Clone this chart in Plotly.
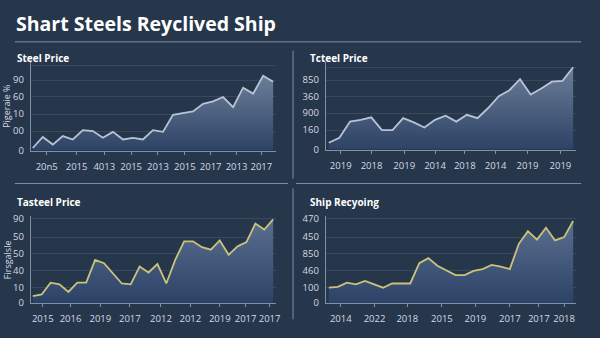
import plotly.graph_objects as go

W, H = 600, 338
BG = "#26364b"

# ---------- data ----------
p1_title = "Steel Price"
p1_values = [3, 16, 7, 17, 13, 24, 23, 15, 22, 13, 15, 13, 24, 22, 42, 44, 46, 55, 58, 63, 51, 74, 67, 88, 81]
p1_xtick_pos = [1.39, 4.37, 7.14, 9.82, 12.5, 15.18, 17.76, 20.34, 22.82]
p1_xtick_text = ["20n5", "2015", "4013", "2015", "2013", "2015", "2017", "2013", "2017"]
p1_ytick_pos = [0, 23, 43, 63.5, 83, 100]
p1_ytick_text = ["0", "00", "10", "60", "90", ""]

p2_title = "Tcteel Price"
p2_values = [8, 14, 33, 35, 38, 23, 23, 37, 32, 26, 35, 40, 33, 41, 37, 49, 63, 70, 83, 65, 72, 80, 81, 97]
p2_xtick_pos = [1.12, 4.02, 7.10, 10.0, 12.8, 15.7, 18.7, 21.8]
p2_xtick_text = ["2019", "2018", "2019", "2014", "2018", "2014", "2019", "2019"]
p2_ytick_pos = [0, 23, 43, 62.5, 82, 97]
p2_ytick_text = ["0", "160", "900", "360", "850", ""]

p3_title = "Tasteel Price"
p3_values = [8, 10, 24, 22, 13, 24, 24, 51, 47, 35, 23, 22, 43, 36, 46, 23, 51, 73, 73, 66, 63, 74, 57, 67, 72, 94, 87, 99]
p3_xtick_pos = [1.12, 4.24, 7.59, 10.9, 14.4, 17.7, 21.0, 23.9, 26.6]
p3_xtick_text = ["2015", "2016", "2019", "2017", "2012", "2012", "2019", "2017", "2017"]
p3_ytick_pos = [0, 18.5, 38.5, 58, 78, 100]
p3_ytick_text = ["0", "10", "40", "50", "50", "90"]

p4_title = "Ship Recyoing"
p4_values = [18, 19, 24, 22, 26, 22, 18, 23, 23, 23, 47, 53, 44, 38, 33, 33, 38, 40, 45, 43, 40, 70, 85, 75, 89, 74, 78, 97]
p4_xtick_pos = [1.32, 5.05, 8.67, 12.5, 16.2, 20.0, 23.2, 26.0]
p4_xtick_text = ["2014", "2022", "2018", "2015", "2019", "2017", "2017", "2018"]
p4_ytick_pos = [0, 18.5, 38.5, 58, 78, 100]
p4_ytick_text = ["0", "100", "460", "850", "450", "470"]

main_title = "Shart Steels Reyclived Ship"
ytitle_top = "Pigeraie %"
ytitle_bottom = "Firsgalsle"

# ---------- layout helpers ----------
def px_x(x):
    return x / W

def px_y(y):
    return 1 - y / H

panels = [
    dict(v=p1_values, xt=p1_xtick_pos, xtt=p1_xtick_text, yt=p1_ytick_pos, ytt=p1_ytick_text,
         xd=(31, 278), yd=(60, 151), first=33, last=275, ytop=104,
         line="#b7c4d6", fill=["#2b4163", "#6b7d99"], title=p1_title, tx=15, ty=56),
    dict(v=p2_values, xt=p2_xtick_pos, xtt=p2_xtick_text, yt=p2_ytick_pos, ytt=p2_ytick_text,
         xd=(328, 580), yd=(60, 150), first=331, last=577, ytop=103,
         line="#b7c4d6", fill=["#2b4163", "#6b7d99"], title=p2_title, tx=310, ty=56),
    dict(v=p3_values, xt=p3_xtick_pos, xtt=p3_xtick_text, yt=p3_ytick_pos, ytt=p3_ytick_text,
         xd=(31, 278), yd=(218, 308), first=33, last=275, ytop=103.5,
         line="#cbc27c", fill=["#2a4166", "#5b6f8f"], title=p3_title, tx=15, ty=204),
    dict(v=p4_values, xt=p4_xtick_pos, xtt=p4_xtick_text, yt=p4_ytick_pos, ytt=p4_ytick_text,
         xd=(328, 580), yd=(218, 308), first=331, last=577, ytop=103.5,
         line="#cbc27c", fill=["#2a4166", "#5b6f8f"], title=p4_title, tx=310, ty=204),
]

fig = go.Figure()
layout_axes = {}
annotations = []
shapes = []

for i, p in enumerate(panels, start=1):
    n = len(p["v"])
    xs = list(range(n))
    ppu = (p["last"] - p["first"]) / (n - 1)
    xr = [(p["xd"][0] - p["first"]) / ppu, (n - 1) + (p["xd"][1] - p["last"]) / ppu]
    xa = "x" if i == 1 else f"x{i}"
    ya = "y" if i == 1 else f"y{i}"
    fig.add_trace(go.Scatter(
        x=xs, y=p["v"], mode="lines", xaxis=xa, yaxis=ya,
        line=dict(color=p["line"], width=1.8),
        fill="tozeroy",
        fillgradient=dict(type="vertical",
                          colorscale=[[0, p["fill"][0]], [1, p["fill"][1]]],
                          start=0, stop=max(p["v"])),
        hoverinfo="skip", showlegend=False,
    ))
    xkey = "xaxis" if i == 1 else f"xaxis{i}"
    ykey = "yaxis" if i == 1 else f"yaxis{i}"
    layout_axes[xkey] = dict(
        domain=[px_x(p["xd"][0]), px_x(p["xd"][1])], range=xr, anchor=ya,
        tickmode="array", tickvals=p["xt"], ticktext=p["xtt"], tickangle=0,
        showgrid=False, zeroline=False, showline=True, linecolor="#8090a6", linewidth=1,
        ticks="outside", ticklen=3, tickcolor="#8090a6", ticklabelstandoff=4,
        tickfont=dict(family="Open Sans", size=9.5, color="#d3dae4"),
        fixedrange=True,
    )
    layout_axes[ykey] = dict(
        domain=[px_y(p["yd"][1]), px_y(p["yd"][0])], range=[0, p["ytop"]], anchor=xa,
        tickmode="array", tickvals=p["yt"], ticktext=p["ytt"],
        showgrid=True, gridcolor="#38485e", gridwidth=1, zeroline=False,
        showline=True, linecolor="#8090a6", linewidth=1,
        ticks="", ticklabelstandoff=4,
        tickfont=dict(family="Open Sans", size=9.5, color="#d3dae4"),
        fixedrange=True,
    )
    annotations.append(dict(
        text=f"<b>{p['title']}</b>", x=px_x(p["tx"]), y=px_y(p["ty"]),
        xref="paper", yref="paper", xanchor="left", yanchor="middle", showarrow=False,
        font=dict(family="Open Sans", size=10, color="#ffffff"),
    ))

annotations.append(dict(
    text=f"<b>{main_title}</b>", x=px_x(14), y=px_y(20), xref="paper", yref="paper",
    xanchor="left", yanchor="middle", showarrow=False,
    font=dict(family="Open Sans", size=19.5, color="#ffffff"),
))
for txt, yc in [(ytitle_top, 105), (ytitle_bottom, 263)]:
    annotations.append(dict(
        text=txt, x=px_x(7), y=px_y(yc), xref="paper", yref="paper",
        xanchor="center", yanchor="middle", showarrow=False, textangle=-90,
        font=dict(family="Open Sans", size=9, color="#d3dae4"),
    ))

line_col = "#7d8ea5"
for (x0, y0, x1, y1) in [(15, 39, 585, 39), (15, 185, 290, 185), (298, 185, 585, 185),
                         (295, 48, 295, 180), (295, 190, 295, 325)]:
    shapes.append(dict(type="line", xref="paper", yref="paper",
                       x0=px_x(x0), y0=px_y(y0), x1=px_x(x1), y1=px_y(y1),
                       line=dict(color=line_col, width=1)))

fig.update_layout(
    width=W, height=H, margin=dict(l=0, r=0, t=0, b=0),
    paper_bgcolor=BG, plot_bgcolor=BG,
    annotations=annotations, shapes=shapes, showlegend=False,
    **layout_axes,
)

fig.write_html("out.html", config={"displayModeBar": False})
